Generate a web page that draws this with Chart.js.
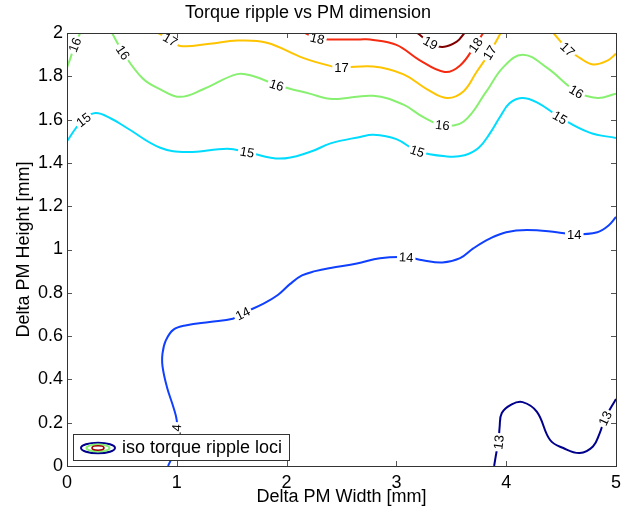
<!DOCTYPE html>
<html>
<head>
<meta charset="utf-8">
<script src="https://cdn.jsdelivr.net/npm/chart.js@4"></script>
<style>
  html, body { margin: 0; padding: 0; background: #fff; }
  #chart { display: block; }
</style>
</head>
<body>
<canvas id="chart" width="634" height="512"></canvas>
<script>
// contour levels and their colours
const levels = [13, 14, 15, 16, 17, 18, 19];
const levelColors = ['#00008c', '#1040ff', '#00dcff', '#88f070', '#ffc400', '#f52a10', '#800000'];

// contour paths, [width, height] in mm
const c13 = [[3.89,0],[3.91,0.06],[3.93,0.11],[3.94,0.18],[3.96,0.245],[4.05,0.285],[4.15,0.295],[4.28,0.25],[4.40,0.12],[4.52,0.083],[4.67,0.06],[4.79,0.09],[4.85,0.15],[4.90,0.22],[5.0,0.31]];
const c14 = [[0.92,0],[0.955,0.04],[0.985,0.105],[0.995,0.16],[1.0,0.21],[0.97,0.27],[0.91,0.365],[0.87,0.46],[0.87,0.52],[0.90,0.58],[0.97,0.63],[1.09,0.65],[1.30,0.665],[1.51,0.68],[1.60,0.705],[1.79,0.75],[1.92,0.79],[2.03,0.84],[2.14,0.88],[2.26,0.90],[2.40,0.915],[2.64,0.935],[2.85,0.96],[3.09,0.965],[3.24,0.95],[3.42,0.94],[3.58,0.96],[3.70,1.005],[3.85,1.05],[4.0,1.08],[4.19,1.09],[4.46,1.08],[4.62,1.07],[4.83,1.08],[4.93,1.11],[5.0,1.15]];
const c15 = [[0,1.50],[0.08,1.56],[0.15,1.60],[0.26,1.63],[0.40,1.605],[0.55,1.56],[0.85,1.47],[1.09,1.45],[1.46,1.465],[1.64,1.45],[1.94,1.42],[2.21,1.45],[2.40,1.49],[2.67,1.52],[2.79,1.53],[3.0,1.51],[3.19,1.455],[3.46,1.43],[3.62,1.435],[3.75,1.47],[3.85,1.535],[3.94,1.61],[4.03,1.675],[4.14,1.70],[4.28,1.68],[4.49,1.61],[4.76,1.54],[5.0,1.515]];
const c16a = [[0,1.84],[0.035,1.89],[0.07,1.945],[0.12,2.0]];
const c16b = [[0.41,2.0],[0.51,1.91],[0.69,1.79],[0.85,1.74],[1.03,1.705],[1.24,1.74],[1.55,1.81],[1.70,1.80],[1.91,1.76],[2.21,1.72],[2.42,1.695],[2.79,1.71],[3.06,1.67],[3.25,1.61],[3.42,1.575],[3.61,1.59],[3.82,1.73],[3.97,1.84],[4.15,1.90],[4.37,1.84],[4.64,1.73],[4.83,1.70],[5.0,1.72]];
const c17a = [[0.83,2.0],[0.94,1.97],[1.03,1.94],[1.30,1.95],[1.55,1.965],[1.82,1.955],[2.15,1.885],[2.42,1.845],[2.50,1.84],[2.79,1.845],[3.06,1.81],[3.28,1.74],[3.46,1.70],[3.61,1.73],[3.73,1.82],[3.85,1.91],[3.95,2.0]];
const c17b = [[4.43,2.0],[4.56,1.925],[4.67,1.885],[4.79,1.855],[4.93,1.875],[5.0,1.905]];
const c18 = [[2.17,2.0],[2.28,1.975],[2.42,1.97],[2.67,1.97],[2.76,1.97],[3.0,1.945],[3.21,1.875],[3.44,1.82],[3.58,1.85],[3.72,1.945],[3.79,2.0]];
const c19 = [[3.19,2.0],[3.31,1.955],[3.42,1.935],[3.55,1.96],[3.62,2.0]];

const contours = [
  { level: 13, path: c13 }, { level: 14, path: c14 }, { level: 15, path: c15 },
  { level: 16, path: c16a }, { level: 16, path: c16b },
  { level: 17, path: c17a }, { level: 17, path: c17b },
  { level: 18, path: c18 }, { level: 19, path: c19 }
];

// inline contour labels: [level, width, height]
const contourLabels = [
  [13,3.93,0.11],[13,4.90,0.22],
  [14,0.995,0.16],[14,1.60,0.705],[14,3.09,0.965],[14,4.62,1.07],
  [15,0.15,1.60],[15,1.64,1.45],[15,3.19,1.455],[15,4.49,1.61],
  [16,0.07,1.945],[16,0.51,1.91],[16,1.91,1.76],[16,3.42,1.575],[16,4.64,1.73],
  [17,0.94,1.97],[17,2.50,1.84],[17,3.85,1.91],[17,4.56,1.925],
  [18,2.28,1.975],[18,3.72,1.945],
  [19,3.31,1.955]
];

const xTicks = [0, 1, 2, 3, 4, 5];
const xTickLabels = ['0', '1', '2', '3', '4', '5'];
const yTicks = [0, 0.2, 0.4, 0.6, 0.8, 1, 1.2, 1.4, 1.6, 1.8, 2];
const yTickLabels = ['0', '0.2', '0.4', '0.6', '0.8', '1', '1.2', '1.4', '1.6', '1.8', '2'];

const FONT = "'Liberation Sans', Arial, Helvetica, sans-serif";

const datasets = contours.map(c => ({
  label: String(c.level),
  level: c.level,
  data: c.path.map(p => ({ x: p[0], y: p[1] })),
  showLine: true,
  borderColor: levelColors[levels.indexOf(c.level)],
  borderWidth: 2,
  pointRadius: 0,
  tension: 0.4,
  fill: false
}));

// labels drawn along the contour, with a white gap under them
const clabelPlugin = {
  id: 'clabels',
  afterDatasetsDraw(chart) {
    const { ctx, scales: { x, y } } = chart;
    ctx.save();
    ctx.font = '13px ' + FONT;
    ctx.textAlign = 'center';
    ctx.textBaseline = 'middle';
    contourLabels.forEach(([lev, lx, ly]) => {
      const px = x.getPixelForValue(lx);
      const py = y.getPixelForValue(ly);
      // nearest point on a contour of that level -> local direction
      let best = null, bestD = Infinity;
      contours.forEach(c => {
        if (c.level !== lev) return;
        c.path.forEach((p, i) => {
          const d = Math.hypot(x.getPixelForValue(p[0]) - px, y.getPixelForValue(p[1]) - py);
          if (d < bestD) { bestD = d; best = { path: c.path, i }; }
        });
      });
      let ang = 0;
      if (best) {
        const a = best.path[Math.max(best.i - 1, 0)];
        const b = best.path[Math.min(best.i + 1, best.path.length - 1)];
        ang = Math.atan2(y.getPixelForValue(b[1]) - y.getPixelForValue(a[1]),
                         x.getPixelForValue(b[0]) - x.getPixelForValue(a[0]));
        if (ang > Math.PI / 2) ang -= Math.PI;
        if (ang < -Math.PI / 2) ang += Math.PI;
      }
      const txt = String(lev);
      const w = ctx.measureText(txt).width;
      ctx.save();
      ctx.translate(px, py);
      ctx.rotate(ang);
      ctx.fillStyle = '#fff';
      ctx.fillRect(-w / 2 - 2, -5, w + 4, 10);
      ctx.fillStyle = '#000';
      ctx.fillText(txt, 0, 1);
      ctx.restore();
    });
    ctx.restore();
  }
};

// MATLAB-like box with inward ticks, plus the legend box
const framePlugin = {
  id: 'frame',
  afterDraw(chart) {
    const { ctx, chartArea: a, scales: { x, y } } = chart;
    ctx.save();
    ctx.lineWidth = 1;
    ctx.strokeStyle = '#555';
    ctx.beginPath();
    xTicks.forEach(v => {
      const px = Math.round(x.getPixelForValue(v)) + 0.5;
      ctx.moveTo(px, a.bottom); ctx.lineTo(px, a.bottom - 5);
      ctx.moveTo(px, a.top); ctx.lineTo(px, a.top + 5);
    });
    yTicks.forEach(v => {
      const py = Math.round(y.getPixelForValue(v)) + 0.5;
      ctx.moveTo(a.left, py); ctx.lineTo(a.left + 5, py);
      ctx.moveTo(a.right, py); ctx.lineTo(a.right - 5, py);
    });
    ctx.stroke();
    ctx.strokeStyle = '#333';
    ctx.strokeRect(Math.round(a.left) + 0.5, Math.round(a.top) + 0.5,
                   Math.round(a.right - a.left), Math.round(a.bottom - a.top));

    // legend
    const lx = 73.5, ly = 434.5, lw = 216, lh = 26;
    ctx.fillStyle = '#fff';
    ctx.fillRect(lx, ly, lw, lh);
    ctx.strokeStyle = '#333';
    ctx.strokeRect(lx, ly, lw, lh);
    const cx = 98, cy = 448;
    [[17, 5.2, '#00008c', 2], [11.5, 3.5, '#88f070', 2], [6, 2.2, '#a00000', 1.6]].forEach(([rx, ry, col, lw2]) => {
      ctx.beginPath();
      ctx.ellipse(cx, cy, rx, ry, 0, 0, Math.PI * 2);
      ctx.lineWidth = lw2;
      ctx.strokeStyle = col;
      ctx.stroke();
    });
    ctx.fillStyle = '#000';
    ctx.font = '18px ' + FONT;
    ctx.textAlign = 'left';
    ctx.textBaseline = 'middle';
    ctx.fillText('iso torque ripple loci', 122, 448);
    ctx.restore();
  }
};

new Chart(document.getElementById('chart'), {
  type: 'scatter',
  data: { datasets },
  options: {
    responsive: false,
    animation: false,
    layout: { padding: { left: 0, right: 18, top: 0, bottom: 0 } },
    plugins: {
      legend: { display: false },
      tooltip: { enabled: false },
      title: {
        display: true,
        text: 'Torque ripple vs PM dimension',
        color: '#000',
        font: { family: FONT, size: 18, weight: 'normal' },
        padding: { top: 2, bottom: 9.4 }
      }
    },
    scales: {
      x: {
        type: 'linear', min: 0, max: 5,
        afterBuildTicks: s => { s.ticks = xTicks.map(v => ({ value: v })); },
        afterFit: s => { s.height = 46; },
        ticks: {
          color: '#000', padding: 6,
          font: { family: FONT, size: 18 },
          callback: v => xTickLabels[xTicks.indexOf(v)]
        },
        grid: { display: false, drawTicks: false },
        border: { display: false },
        title: {
          display: true, text: 'Delta PM Width [mm]', color: '#000',
          font: { family: FONT, size: 18 }, padding: { top: 0, bottom: 4 }
        }
      },
      y: {
        type: 'linear', min: 0, max: 2,
        afterBuildTicks: s => { s.ticks = yTicks.map(v => ({ value: v })); },
        afterFit: s => { s.width = 67; },
        ticks: {
          color: '#000', padding: 4,
          font: { family: FONT, size: 18 },
          callback: v => yTickLabels[yTicks.indexOf(v)]
        },
        grid: { display: false, drawTicks: false },
        border: { display: false },
        title: {
          display: true, text: 'Delta PM Height [mm]', color: '#000',
          font: { family: FONT, size: 18 }, padding: { top: 13, bottom: 0 }
        }
      }
    }
  },
  plugins: [clabelPlugin, framePlugin]
});
</script>
</body>
</html>
